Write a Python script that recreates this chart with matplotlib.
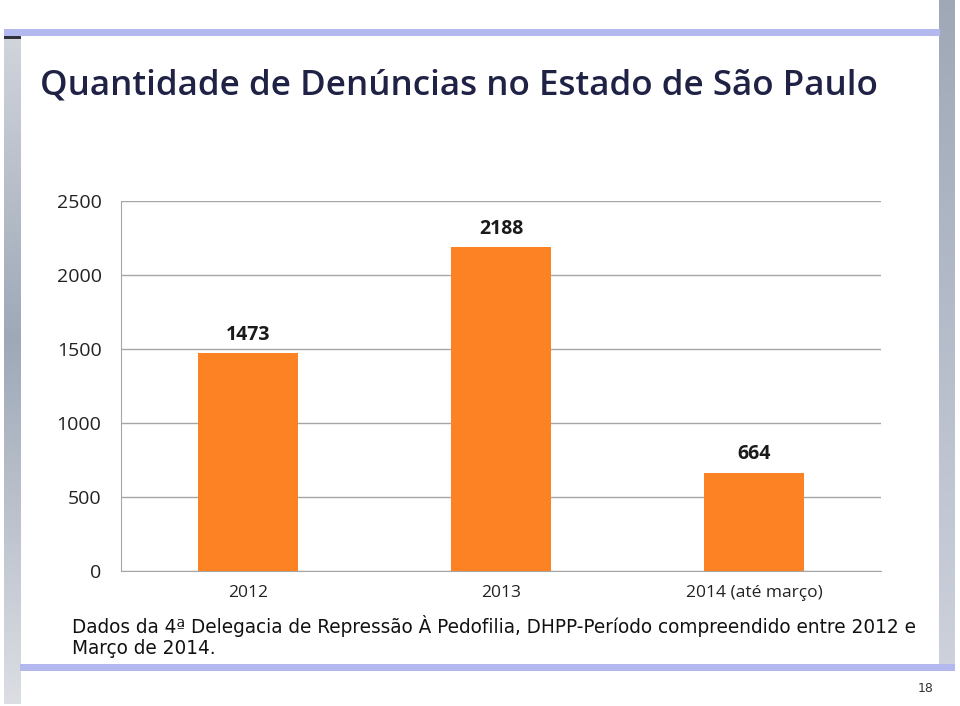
import matplotlib
matplotlib.use("Agg")
import matplotlib.pyplot as plt
from matplotlib.patches import Rectangle
import numpy as np

categories = ["2012", "2013", "2014 (até março)"]
values = [1473, 2188, 664]
yticks = [0, 500, 1000, 1500, 2000, 2500]

W, H = 960, 706
fig = plt.figure(figsize=(W / 100, H / 100), dpi=100)
fig.patch.set_facecolor("white")
renderer = fig.canvas.get_renderer()

def px_rect(x0, y0, x1, y1, color, z=0):
    fig.patches.append(Rectangle((x0 / W, 1 - y1 / H), (x1 - x0) / W, (y1 - y0) / H,
                                 transform=fig.transFigure, facecolor=color,
                                 edgecolor="none", zorder=z))

def fit_text(t, target_px):
    for _ in range(3):
        w = t.get_window_extent(renderer=renderer).width
        t.set_fontsize(t.get_fontsize() * target_px / w)

# slide decorations
grad = np.linspace(0, 1, 200)
col_light = np.array([0.86, 0.87, 0.89])
col_mid = np.array([0.62, 0.66, 0.72])
axg = fig.add_axes([4 / W, 1 - 704 / H, 17 / W, (704 - 38) / H])
g = np.abs(grad - 0.45)
g = g / g.max()
img = col_mid[None, :] * (1 - g[:, None]) + col_light[None, :] * g[:, None]
axg.imshow(img[:, None, :], aspect="auto")
axg.axis("off")
axr = fig.add_axes([939 / W, 1 - 664 / H, 16 / W, 664 / H])
g2 = np.linspace(0, 1, 200)
img2 = np.array([0.62, 0.66, 0.72])[None, :] * (1 - g2[:, None]) + np.array([0.80, 0.82, 0.86])[None, :] * g2[:, None]
axr.imshow(img2[:, None, :], aspect="auto")
axr.axis("off")
px_rect(4, 29, 940, 36, "#b3b8ee", 1)
px_rect(4, 36, 21, 39, "#30333f", 1)
px_rect(20, 664, 955, 671, "#b3b8ee", 1)

# title
title = fig.text(40 / W, 1 - 85 / H, "Quantidade de Denúncias no Estado de São Paulo",
                 fontsize=25, fontweight="semibold", color="#1f2244", family="Open Sans",
                 ha="left", va="center")
fit_text(title, 838)

# chart axes
ax = fig.add_axes([121 / W, 1 - 571 / H, 760 / W, 370 / H])
x = np.arange(len(categories))
ax.bar(x, values, width=0.395, color="#fd8224", zorder=3)
ax.set_xlim(-0.5, len(categories) - 0.5)
ax.set_ylim(0, 2500)
ax.set_yticks(yticks)
ax.set_yticklabels([str(t) for t in yticks], fontsize=14, family="Open Sans", color="#222222")
ax.set_xticks(x)
ax.set_xticklabels(categories, fontsize=12.5, family="Open Sans", color="#222222")
ax.tick_params(axis="both", length=0)
ax.tick_params(axis="y", pad=14)
ax.tick_params(axis="x", pad=10)
ax.grid(axis="y", color="#a6a6a6", linewidth=1, zorder=0)
for s in ["top", "right"]:
    ax.spines[s].set_visible(False)
ax.spines["left"].set_color("#a6a6a6")
ax.spines["bottom"].set_color("#a6a6a6")
for xi, v in zip(x, values):
    ax.annotate(str(v), (xi, v), xytext=(0, 6), textcoords="offset points",
                ha="center", va="bottom", fontsize=14, fontweight="bold",
                family="Open Sans", color="#1a1a1a")

# footnote
f1 = fig.text(72 / W, 1 - 626 / H,
              "Dados da 4ª Delegacia de Repressão À Pedofilia, DHPP-Período compreendido entre 2012 e",
              fontsize=13.5, family="DejaVu Sans", color="#111111", ha="left", va="center")
fit_text(f1, 848)
f2 = fig.text(72 / W, 1 - 649 / H, "Março de 2014.",
              fontsize=f1.get_fontsize(), family="DejaVu Sans", color="#111111", ha="left", va="center")
fig.text(926 / W, 1 - 688 / H, "18", fontsize=9, family="DejaVu Sans",
         color="#333333", ha="center", va="center")

fig.savefig("out.png", dpi=100)
